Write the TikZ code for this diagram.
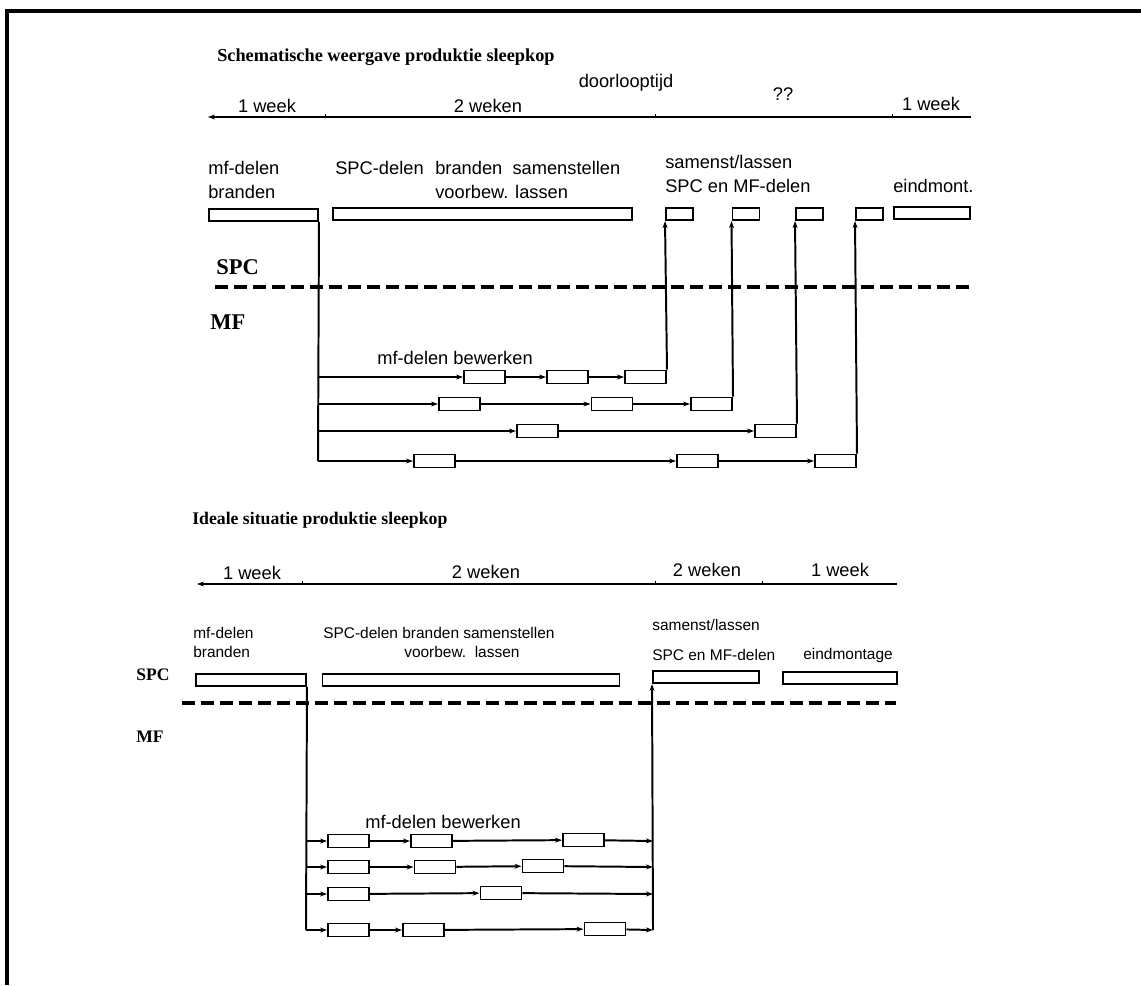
\documentclass[tikz,border=0pt]{standalone}
\usepackage{fontspec}
\setmainfont{Liberation Serif}
\setsansfont{Liberation Sans}
\usetikzlibrary{arrows.meta, positioning}

\newcommand{\px}{0.025cm}

\tikzset{
  txt/.style={font=\sffamily\fontsize{13}{15}\selectfont, inner sep=0pt, anchor=west},
  smtxt/.style={font=\sffamily\fontsize{11}{13}\selectfont, inner sep=0pt, anchor=west},
  head/.style={font=\bfseries\fontsize{13}{15}\selectfont, inner sep=0pt, anchor=west},
  side/.style={font=\bfseries\fontsize{16}{18}\selectfont, inner sep=0pt, anchor=west},
  sidesm/.style={font=\bfseries\fontsize{12.5}{14}\selectfont, inner sep=0pt, anchor=west},
  bar/.style={draw, line width=1.4pt, inner sep=0pt, minimum height=12*\px},
  blk/.style={bar, minimum width=41*\px, minimum height=13*\px},
  flag/.style={bar, minimum width=27*\px},
  line/.style={line width=1.4pt},
  split/.style={line width=2.6pt, dash pattern=on 0.325cm off 0.15cm},
}

\begin{document}
\begin{tikzpicture}[x=\px, y=-\px, >={Stealth[length=5pt,width=3.5pt]}]
  \useasboundingbox (0,0) rectangle (1141,985);
  \draw[line width=2.2pt] (1141,11) -- (7,11) -- (7,985);

  % huidige situatie
  \node[head] (ttl1) at (217,57) {Schematische weergave produktie sleepkop};
  \node[txt, anchor=center] (dlt) at (626,83) {doorlooptijd};
  \coordinate (ax1e) at (971,117);
  \coordinate (ax1s) at (208,117);
  \draw[line, ->] (ax1e) -- (ax1s);
  \foreach \t in {325,655,892} \draw[line width=0.6pt] (\t,117) -- (\t,114);
  \node[txt, anchor=center] (w1a) at (267,106) {1 week};
  \node[txt, anchor=center] (w1b) at (488,106) {2 weken};
  \node[txt, anchor=center] (w1c) at (783,94) {??};
  \node[txt, anchor=center] (w1d) at (931,104) {1 week};

  \node[txt] (l1a) at (208,168) {mf-delen};
  \node[txt] (l1b) at (208,192) {branden};
  \node[txt] (l1c) at (335,168) {SPC-delen};
  \node[txt] (l1d) at (435,168) {branden\ \ samenstellen};
  \node[txt] (l1e) at (435,192) {voorbew. lassen};
  \node[txt] (l1f) at (665,162) {samenst/lassen};
  \node[txt] (l1g) at (665,186) {SPC en MF-delen};
  \node[txt] (l1h) at (893,186) {eindmont.};

  \node[bar, minimum width=109*\px] (mfb) at (263.5,215) {};
  \node[bar, minimum width=299*\px] (spcb) at (482.5,214) {};
  \node[flag] (s1) at (679.5,214) {};
  \node[flag] (s2) at (746,214) {};
  \node[flag] (s3) at (809.5,214) {};
  \node[flag] (s4) at (869.5,214) {};
  \node[bar, minimum width=76*\px] (eind) at (932,213) {};

  \node[side] (spc1) at (216,267) {SPC};
  \coordinate (d1s) at (215,287);
  \coordinate (d1e) at (972,287);
  \draw[split] (d1s) -- (d1e);
  \node[side] (mf1) at (210,322) {MF};

  \node[txt] (bew1) at (377,358) {mf-delen bewerken};
  \coordinate (t1) at (318,377);
  \coordinate (t2) at (318,404);
  \coordinate (t3) at (318,431);
  \coordinate (t4) at (318,461);
  \draw[line] (mfb.south east) -- (t4);

  \node[blk] (a1) at (484.5,377) {};
  \node[blk] (a2) at (567.5,377) {};
  \node[blk] (a3) at (645.5,377) {};
  \node[blk] (b1) at (459.5,404) {};
  \node[blk] (b2) at (612,404) {};
  \node[blk] (b3) at (711.5,404) {};
  \node[blk] (c1) at (537.5,431) {};
  \node[blk] (c2) at (775.5,431) {};
  \node[blk] (d1) at (434.5,461) {};
  \node[blk] (d2) at (697.5,461) {};
  \node[blk] (d3) at (835.5,461) {};

  \draw[line, ->] (t1) -- (a1);
  \draw[line, ->] (a1) -- (a2);
  \draw[line, ->] (a2) -- (a3);
  \draw[line, ->] (a3.north east) -- (s1.south west);
  \draw[line, ->] (t2) -- (b1);
  \draw[line, ->] (b1) -- (b2);
  \draw[line, ->] (b2) -- (b3);
  \draw[line, ->] (b3.north east) -- (s2.south west);
  \draw[line, ->] (t3) -- (c1);
  \draw[line, ->] (c1) -- (c2);
  \draw[line, ->] (c2.north east) -- (s3.south west);
  \draw[line, ->] (t4) -- (d1);
  \draw[line, ->] (d1) -- (d2);
  \draw[line, ->] (d2) -- (d3);
  \draw[line, ->] (d3.north east) -- (s4.south west);

  % ideale situatie
  \node[head, font=\bfseries\fontsize{12.6}{14}\selectfont] (ttl2) at (192,520) {Ideale situatie produktie sleepkop};
  \coordinate (ax2e) at (897,584);
  \coordinate (ax2s) at (197,584);
  \draw[line, ->] (ax2e) -- (ax2s);
  \foreach \t in {302,655,762} \draw[line width=0.6pt] (\t,584) -- (\t,581);
  \node[txt, anchor=center] (w2a) at (252,573) {1 week};
  \node[txt, anchor=center] (w2b) at (486,572) {2 weken};
  \node[txt, anchor=center] (w2c) at (707,570) {2 weken};
  \node[txt, anchor=center] (w2d) at (840,570) {1 week};

  \node[smtxt] (l2a) at (193,633) {mf-delen};
  \node[smtxt] (l2b) at (193,652) {branden};
  \node[smtxt] (l2c) at (323,633) {SPC-delen branden samenstellen};
  \node[smtxt] (l2d) at (404,652) {voorbew.\ \ lassen};
  \node[smtxt] (l2e) at (652,625) {samenst/lassen};
  \node[smtxt] (l2f) at (652,655) {SPC en MF-delen};
  \node[smtxt] (l2g) at (803,655) {eindmontage};

  \node[sidesm] (spc2) at (136,675) {SPC};
  \node[bar, minimum width=110*\px] (mfb2) at (251,680) {};
  \node[bar, minimum width=297*\px] (spcb2) at (471,680) {};
  \node[bar, minimum width=106*\px] (sam2) at (706,677) {};
  \node[bar, minimum width=114*\px] (eind2) at (840,678) {};
  \coordinate (d2s) at (182,703);
  \coordinate (d2e) at (896,703);
  \draw[split] (d2s) -- (d2e);
  \node[sidesm] (mf2) at (136,737) {MF};

  \node[txt] (bew2) at (365,822) {mf-delen bewerken};
  \coordinate (u1) at (306,841);
  \coordinate (u2) at (306,867);
  \coordinate (u3) at (306,894);
  \coordinate (u4) at (306,930);
  \coordinate (v1) at (653,841);
  \coordinate (v2) at (653,867);
  \coordinate (v3) at (653,894);
  \coordinate (v4) at (653,930);
  \draw[line] (mfb2.south east) -- (u4);
  \draw[line, ->] (v4) -- (sam2.south west);

  \node[blk] (e1) at (348.5,841) {};
  \node[blk] (e2) at (431.5,841) {};
  \node[blk] (e3) at (583.5,840) {};
  \node[blk] (f1) at (348.5,867) {};
  \node[blk] (f2) at (435,867) {};
  \node[blk] (f3) at (543,866) {};
  \node[blk] (g1) at (348.5,894) {};
  \node[blk] (g2) at (501,893) {};
  \node[blk] (h1) at (348.5,930) {};
  \node[blk] (h2) at (423.5,930) {};
  \node[blk] (h3) at (605,929) {};

  \draw[line, ->] (u1) -- (e1);
  \draw[line, ->] (e1) -- (e2);
  \draw[line, ->] (e2) -- (e3);
  \draw[line, ->] (e3) -- (v1);
  \draw[line, ->] (u2) -- (f1);
  \draw[line, ->] (f1) -- (f2);
  \draw[line, ->] (f2) -- (f3);
  \draw[line, ->] (f3) -- (v2);
  \draw[line, ->] (u3) -- (g1);
  \draw[line, ->] (g1) -- (g2);
  \draw[line, ->] (g2) -- (v3);
  \draw[line, ->] (u4) -- (h1);
  \draw[line, ->] (h1) -- (h2);
  \draw[line, ->] (h2) -- (h3);
  \draw[line, ->] (h3) -- (v4);
\end{tikzpicture}
\end{document}
